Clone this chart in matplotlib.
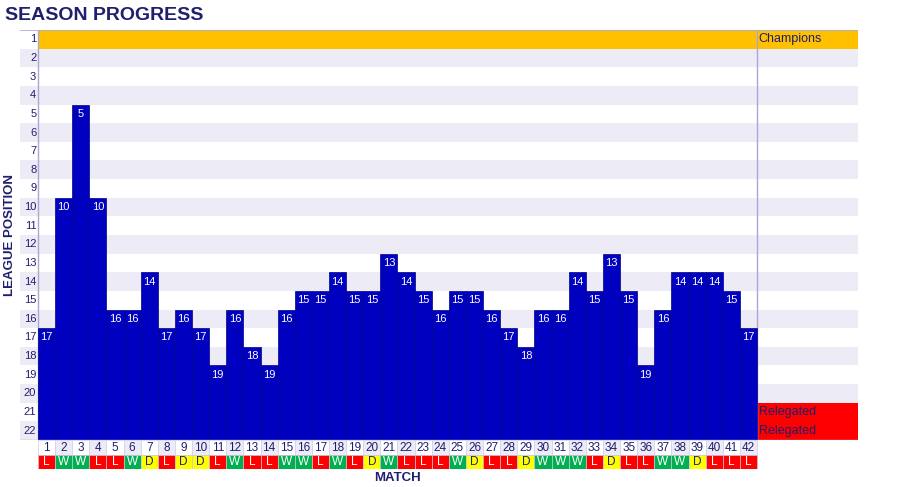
import numpy as np
import matplotlib.pyplot as plt
from matplotlib.patches import Rectangle

plt.rcParams['font.family'] = ['Liberation Sans', 'DejaVu Sans']

matches = np.arange(1, 43)
positions = [17, 10, 5, 10, 16, 16, 14, 17, 16, 17, 19, 16, 18, 19, 16, 15, 15, 14, 15, 15, 13,
             14, 15, 16, 15, 15, 16, 17, 18, 16, 16, 14, 15, 13, 15, 19, 16, 14, 14, 14, 15, 17]
results = list("LWWLLWDLDDLWLLWWLWLDWLLLWDLLDWWWLDLLWWDLLL")
n_teams = 22
zone_labels = {1: 'Champions', 21: 'Relegated', 22: 'Relegated'}

navy = '#1f1f6e'
bar_blue = '#0000c0'
stripe = '#edebf5'
line_c = '#aaa8d2'
res_colors = {'W': '#00b050', 'L': '#ff0000', 'D': '#ffff00'}

W, H = 900, 487
fig = plt.figure(figsize=(9, 4.87), dpi=100)

# main axes: from x=20px to 858px, y=30px to 440px
unit = (757 - 38) / 42
x0 = 0.5 - (38 - 20) / unit
x1 = 42.5 + (858 - 757) / unit
ax = fig.add_axes([20 / W, 1 - 440 / H, 838 / W, 410 / H])
ax.set_xlim(x0, x1)
ax.set_ylim(n_teams + 0.5, 0.5)
ax.axis('off')

# row stripes
for r in range(1, n_teams + 1):
    if r % 2 == 0:
        ax.add_patch(Rectangle((x0, r - 0.5), x1 - x0, 1, color=stripe, lw=0, zorder=0))
    if r in zone_labels:
        c = '#ffc000' if r == 1 else '#ff0000'
        start = 0.5 if r == 1 else 42.5
        ax.add_patch(Rectangle((start, r - 0.5), x1 - start, 1, color=c, lw=0, zorder=0.5))
        ax.text(42.6, r, zone_labels[r], ha='left', va='center', fontsize=9, color=navy, zorder=3)
    ax.text(0.4, r, str(r), ha='right', va='center', fontsize=8, color=navy, zorder=3)

# bars
ax.bar(matches, [n_teams + 0.5 - (p - 0.5) for p in positions],
       bottom=[p - 0.5 for p in positions], width=1.0,
       color=bar_blue, edgecolor='#000080', linewidth=0.5, zorder=2)
for m, p in zip(matches, positions):
    ax.text(m, p, str(p), ha='center', va='center', fontsize=8, color='white', zorder=3)

ax.axvline(0.5, color=line_c, lw=1, zorder=1.5)
ax.axvline(42.5, color=line_c, lw=1, zorder=1.5)
ax.axhline(0.5, color=line_c, lw=1.2, zorder=1.5)
ax.axhline(n_teams + 0.5, color=line_c, lw=1, zorder=2.5)

# match table below
tab = fig.add_axes([20 / W, 1 - 469 / H, 838 / W, 29 / H])
tab.set_xlim(x0, x1)
tab.set_ylim(2, 0)
tab.axis('off')
for m, res in zip(matches, results):
    bg = stripe if m % 2 == 0 else 'white'
    tab.add_patch(Rectangle((m - 0.5, 0), 1, 1, facecolor=bg, edgecolor='#d4d2ea', lw=0.6))
    tab.text(m, 0.52, str(m), ha='center', va='center', fontsize=8.5, color=navy)
    tab.add_patch(Rectangle((m - 0.5, 1), 1, 1, facecolor=res_colors[res], edgecolor='#c8c6e0', lw=0.5))
    tab.text(m, 1.52, res, ha='center', va='center', fontsize=8.5,
             color=navy if res == 'D' else 'white')

fig.text(5 / W, 1 - 15 / H, 'SEASON PROGRESS', ha='left', va='center',
         fontsize=14, fontweight='bold', color=navy)
fig.text(397 / W, 1 - 478 / H, 'MATCH', ha='center', va='center',
         fontsize=9.5, fontweight='bold', color=navy)
fig.text(10 / W, 1 - 235 / H, 'LEAGUE POSITION', ha='center', va='center', rotation=90,
         fontsize=9.5, fontweight='bold', color=navy)

fig.savefig('out.png', dpi=100)
